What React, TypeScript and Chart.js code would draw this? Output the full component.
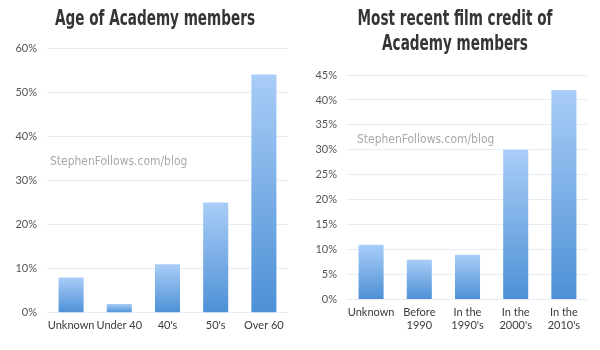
import React, { useEffect, useRef } from "react";
import { Chart, registerables } from "chart.js";

Chart.register(...registerables);

const ageCategories = ["Unknown", "Under 40", "40's", "50's", "Over 60"];
const ageValues = [8, 2, 11, 25, 54];
const ageTitle = ["Age of Academy members"];

const creditCategories: (string | string[])[] = [
  "Unknown",
  ["Before", "1990"],
  ["In the", "1990's"],
  ["In the", "2000's"],
  ["In the", "2010's"],
];
const creditValues = [11, 8, 9, 30, 42];
const creditTitle = ["Most recent film credit of", "Academy members"];

const watermark = "StephenFollows.com/blog";

const TITLE_FONT = "'DejaVu Sans Condensed', 'DejaVu Sans', sans-serif";
const TICK_FONT = "Lato, 'Open Sans', sans-serif";

function makeConfig(
  labels: (string | string[])[],
  values: number[],
  title: string[],
  max: number,
  step: number,
  topPad: number,
  wmOffsetX: number,
  wmOffsetY: number
): any {
  const decorPlugin = {
    id: "decor",
    afterDraw(chart: any) {
      const { ctx, chartArea, width } = chart;
      ctx.save();
      // watermark
      ctx.font = "13px " + TITLE_FONT;
      ctx.fillStyle = "#a8a8a8";
      ctx.textBaseline = "middle";
      ctx.textAlign = "left";
      ctx.save();
      ctx.translate(chartArea.left + wmOffsetX, chartArea.top + wmOffsetY);
      ctx.scale(0.92, 1);
      ctx.fillText(watermark, 0, 0);
      ctx.restore();
      // title
      ctx.font = "bold 21px " + TITLE_FONT;
      ctx.fillStyle = "#353535";
      ctx.textAlign = "center";
      title.forEach((line, i) => {
        ctx.save();
        ctx.translate(width / 2 + 5, 20 + i * 25);
        ctx.scale(0.72, 1);
        ctx.fillText(line, 0, 0);
        ctx.restore();
      });
      ctx.restore();
    },
  };
  return {
    type: "bar",
    data: {
      labels,
      datasets: [
        {
          data: values,
          borderWidth: 0,
          backgroundColor: (c: any) => {
            const chart = c.chart;
            const ys = chart.scales && chart.scales.y;
            if (!ys || c.parsed == null) return "#7fb0e8";
            const top = ys.getPixelForValue(c.parsed.y);
            const bottom = ys.getPixelForValue(0);
            if (!isFinite(top) || !isFinite(bottom) || top === bottom) return "#7fb0e8";
            const g = chart.ctx.createLinearGradient(0, top, 0, bottom);
            g.addColorStop(0, "#a9cdf7");
            g.addColorStop(1, "#4d90d6");
            return g;
          },
          categoryPercentage: 1,
          barPercentage: 0.52,
        },
      ],
    },
    options: {
      responsive: false,
      animation: false,
      layout: { padding: { left: 0, right: 12, top: topPad, bottom: 12 } },
      plugins: {
        legend: { display: false },
        tooltip: { enabled: false },
        title: { display: false },
      },
      scales: {
        x: {
          grid: { display: false, drawTicks: false },
          border: { display: false },
          ticks: {
            color: "#3a3a3a",
            font: { family: TICK_FONT, size: 11, lineHeight: 1.2 },
            padding: 6,
            maxRotation: 0,
            autoSkip: false,
          },
        },
        y: {
          min: 0,
          max,
          grid: { color: "#e4edf8", drawTicks: false, lineWidth: 1 },
          border: { display: false },
          afterFit: (s: any) => {
            s.width = 47;
          },
          ticks: {
            stepSize: step,
            color: "#555555",
            font: { family: TICK_FONT, size: 11 },
            padding: 10,
            callback: (v: any) => v + "%",
          },
        },
      },
    },
    plugins: [decorPlugin],
  };
}

function BarChart(props: { config: any }) {
  const ref = useRef<HTMLCanvasElement | null>(null);
  useEffect(() => {
    if (!ref.current) return;
    const chart = new Chart(ref.current, props.config);
    return () => chart.destroy();
  }, []);
  return <canvas ref={ref} width={300} height={350} style={{ display: "block" }} />;
}

export default function App() {
  const left = makeConfig(ageCategories, ageValues, ageTitle, 60, 10, 48, 3, 114);
  const right = makeConfig(creditCategories, creditValues, creditTitle, 45, 5, 75, 10, 65);
  return (
    <div
      style={{
        position: "fixed",
        left: 0,
        top: 0,
        width: 600,
        height: 350,
        background: "#ffffff",
        display: "flex",
      }}
    >
      <BarChart config={left} />
      <BarChart config={right} />
    </div>
  );
}
